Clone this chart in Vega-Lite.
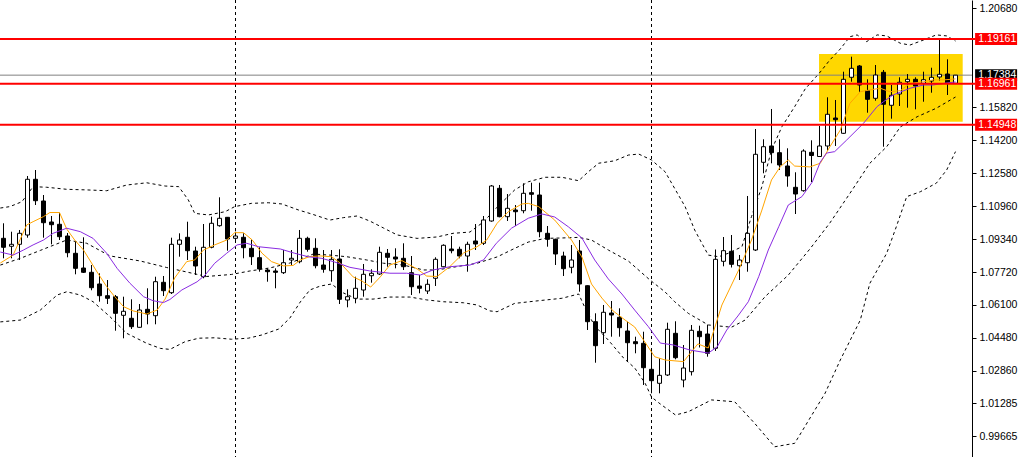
{
  "$schema": "https://vega.github.io/schema/vega-lite/v6.json",
  "width": 972,
  "height": 457,
  "autosize": {"type": "none"},
  "padding": {"left": 0, "top": 0, "right": 48, "bottom": 0},
  "background": "white",
  "config": {
    "view": {"stroke": null},
    "axis": {"grid": false, "title": null, "domainColor": "black", "domainWidth": 1, "tickColor": "black", "tickSize": 4,
             "labelColor": "black", "labelFont": "Liberation Sans", "labelFontSize": 10.5, "labelPadding": 3,
             "labelOverlap": false, "labelFlush": false}
  },
  "datasets": {
    "candles": [
      {"i":0,"o":1.09374,"h":1.10111,"l":1.08392,"c":1.08933},
      {"i":1,"o":1.08982,"h":1.09698,"l":1.08392,"c":1.09080},
      {"i":2,"o":1.09080,"h":1.09782,"l":1.08309,"c":1.09620},
      {"i":3,"o":1.09536,"h":1.12433,"l":1.09404,"c":1.12271},
      {"i":4,"o":1.12271,"h":1.12727,"l":1.11009,"c":1.11220},
      {"i":5,"o":1.11206,"h":1.11500,"l":1.09404,"c":1.10140},
      {"i":6,"o":1.10175,"h":1.10469,"l":1.09080,"c":1.10042},
      {"i":7,"o":1.10062,"h":1.10631,"l":1.09291,"c":1.09453},
      {"i":8,"o":1.09487,"h":1.09635,"l":1.08442,"c":1.08667},
      {"i":9,"o":1.08638,"h":1.09207,"l":1.07607,"c":1.07901},
      {"i":10,"o":1.07916,"h":1.09424,"l":1.07671,"c":1.07705},
      {"i":11,"o":1.07705,"h":1.08064,"l":1.06822,"c":1.06949},
      {"i":12,"o":1.07131,"h":1.07656,"l":1.06262,"c":1.06557},
      {"i":13,"o":1.06557,"h":1.07327,"l":1.06149,"c":1.06429},
      {"i":14,"o":1.06508,"h":1.06591,"l":1.04838,"c":1.05692},
      {"i":15,"o":1.05594,"h":1.06508,"l":1.04465,"c":1.05791},
      {"i":16,"o":1.05447,"h":1.06380,"l":1.04922,"c":1.05035},
      {"i":17,"o":1.05005,"h":1.06149,"l":1.04990,"c":1.05854},
      {"i":18,"o":1.05889,"h":1.06920,"l":1.05152,"c":1.05658},
      {"i":19,"o":1.05575,"h":1.07489,"l":1.05152,"c":1.07244},
      {"i":20,"o":1.07214,"h":1.07524,"l":1.06542,"c":1.06802},
      {"i":21,"o":1.06704,"h":1.09404,"l":1.06640,"c":1.09080},
      {"i":22,"o":1.09080,"h":1.09620,"l":1.08471,"c":1.09291},
      {"i":23,"o":1.09424,"h":1.10189,"l":1.08309,"c":1.08766},
      {"i":24,"o":1.08751,"h":1.08962,"l":1.07573,"c":1.08015},
      {"i":25,"o":1.07489,"h":1.10076,"l":1.07411,"c":1.08933},
      {"i":26,"o":1.08933,"h":1.10435,"l":1.08883,"c":1.10111},
      {"i":27,"o":1.09993,"h":1.11387,"l":1.09944,"c":1.10356},
      {"i":28,"o":1.10405,"h":1.10420,"l":1.08766,"c":1.09340},
      {"i":29,"o":1.09374,"h":1.09698,"l":1.09291,"c":1.09487},
      {"i":30,"o":1.09424,"h":1.09620,"l":1.08392,"c":1.08913},
      {"i":31,"o":1.08883,"h":1.09325,"l":1.08064,"c":1.08471},
      {"i":32,"o":1.08422,"h":1.08933,"l":1.07735,"c":1.07867},
      {"i":33,"o":1.07818,"h":1.07901,"l":1.07244,"c":1.07735},
      {"i":34,"o":1.07769,"h":1.07901,"l":1.06920,"c":1.07705},
      {"i":35,"o":1.07686,"h":1.08800,"l":1.07622,"c":1.08176},
      {"i":36,"o":1.08309,"h":1.08800,"l":1.08064,"c":1.08392},
      {"i":37,"o":1.08226,"h":1.09782,"l":1.08147,"c":1.09374},
      {"i":38,"o":1.09374,"h":1.09453,"l":1.08717,"c":1.08834},
      {"i":39,"o":1.08883,"h":1.09374,"l":1.07901,"c":1.08029},
      {"i":40,"o":1.08064,"h":1.08800,"l":1.07686,"c":1.07853},
      {"i":41,"o":1.07784,"h":1.08800,"l":1.07244,"c":1.08343},
      {"i":42,"o":1.08358,"h":1.08834,"l":1.06149,"c":1.06380},
      {"i":43,"o":1.06345,"h":1.06871,"l":1.05987,"c":1.06508},
      {"i":44,"o":1.06429,"h":1.07489,"l":1.06183,"c":1.06920},
      {"i":45,"o":1.06836,"h":1.08113,"l":1.06508,"c":1.07607},
      {"i":46,"o":1.07538,"h":1.07853,"l":1.07195,"c":1.07656},
      {"i":47,"o":1.07622,"h":1.08962,"l":1.07573,"c":1.08687},
      {"i":48,"o":1.08638,"h":1.08849,"l":1.07980,"c":1.08442},
      {"i":49,"o":1.08456,"h":1.08883,"l":1.07901,"c":1.08358},
      {"i":50,"o":1.08392,"h":1.09129,"l":1.07818,"c":1.07980},
      {"i":51,"o":1.07686,"h":1.08505,"l":1.06591,"c":1.06998},
      {"i":52,"o":1.07033,"h":1.07573,"l":1.06674,"c":1.06920},
      {"i":53,"o":1.06787,"h":1.07362,"l":1.06640,"c":1.07116},
      {"i":54,"o":1.07411,"h":1.08442,"l":1.07033,"c":1.08343},
      {"i":55,"o":1.07980,"h":1.09080,"l":1.07951,"c":1.09031},
      {"i":56,"o":1.08849,"h":1.09487,"l":1.08638,"c":1.08766},
      {"i":57,"o":1.08834,"h":1.08962,"l":1.08392,"c":1.08505},
      {"i":58,"o":1.08505,"h":1.09207,"l":1.07735,"c":1.09080},
      {"i":59,"o":1.09242,"h":1.10076,"l":1.08800,"c":1.09095},
      {"i":60,"o":1.09129,"h":1.10469,"l":1.09045,"c":1.10273},
      {"i":61,"o":1.10224,"h":1.11991,"l":1.10189,"c":1.11942},
      {"i":62,"o":1.11829,"h":1.11991,"l":1.10405,"c":1.10435},
      {"i":63,"o":1.10435,"h":1.11549,"l":1.10224,"c":1.10847},
      {"i":64,"o":1.10764,"h":1.11009,"l":1.09978,"c":1.10680},
      {"i":65,"o":1.10729,"h":1.12074,"l":1.10602,"c":1.11583},
      {"i":66,"o":1.11613,"h":1.12104,"l":1.10729,"c":1.11535},
      {"i":67,"o":1.11500,"h":1.12104,"l":1.09424,"c":1.09698},
      {"i":68,"o":1.09620,"h":1.09978,"l":1.08962,"c":1.09325},
      {"i":69,"o":1.09325,"h":1.09355,"l":1.08064,"c":1.08604},
      {"i":70,"o":1.08505,"h":1.08717,"l":1.07524,"c":1.07882},
      {"i":71,"o":1.07951,"h":1.09045,"l":1.07656,"c":1.08309},
      {"i":72,"o":1.08751,"h":1.09291,"l":1.06753,"c":1.07131},
      {"i":73,"o":1.07047,"h":1.07060,"l":1.04873,"c":1.05280},
      {"i":74,"o":1.05280,"h":1.05692,"l":1.03267,"c":1.04102},
      {"i":75,"o":1.04740,"h":1.06100,"l":1.04185,"c":1.05742},
      {"i":76,"o":1.05707,"h":1.06296,"l":1.04544,"c":1.05609},
      {"i":77,"o":1.05496,"h":1.05938,"l":1.04544,"c":1.04986},
      {"i":78,"o":1.04824,"h":1.05280,"l":1.03317,"c":1.04249},
      {"i":79,"o":1.04298,"h":1.04544,"l":1.03729,"c":1.04200},
      {"i":80,"o":1.04220,"h":1.04789,"l":1.02173,"c":1.03022},
      {"i":81,"o":1.02943,"h":1.03925,"l":1.01765,"c":1.02384},
      {"i":82,"o":1.02256,"h":1.03483,"l":1.01765,"c":1.02648},
      {"i":83,"o":1.02664,"h":1.05231,"l":1.02615,"c":1.04907},
      {"i":84,"o":1.04710,"h":1.05300,"l":1.03434,"c":1.03513},
      {"i":85,"o":1.02418,"h":1.04136,"l":1.02060,"c":1.03007},
      {"i":86,"o":1.02826,"h":1.05118,"l":1.02639,"c":1.04858},
      {"i":87,"o":1.04809,"h":1.05084,"l":1.04014,"c":1.04544},
      {"i":88,"o":1.04676,"h":1.05133,"l":1.03562,"c":1.03729},
      {"i":89,"o":1.03974,"h":1.08825,"l":1.03842,"c":1.08343},
      {"i":90,"o":1.08245,"h":1.09438,"l":1.07999,"c":1.08766},
      {"i":91,"o":1.08736,"h":1.09536,"l":1.07941,"c":1.08098},
      {"i":92,"o":1.08029,"h":1.08555,"l":1.07327,"c":1.08309},
      {"i":93,"o":1.08176,"h":1.11451,"l":1.07735,"c":1.09620},
      {"i":94,"o":1.08800,"h":1.14740,"l":1.08751,"c":1.13498},
      {"i":95,"o":1.13105,"h":1.14235,"l":1.12565,"c":1.13871},
      {"i":96,"o":1.13906,"h":1.15722,"l":1.13056,"c":1.13577},
      {"i":97,"o":1.13577,"h":1.14235,"l":1.12727,"c":1.12973},
      {"i":98,"o":1.12924,"h":1.13793,"l":1.11907,"c":1.12433},
      {"i":99,"o":1.11878,"h":1.12615,"l":1.10567,"c":1.11549},
      {"i":100,"o":1.11711,"h":1.13744,"l":1.11662,"c":1.13660},
      {"i":101,"o":1.13596,"h":1.14185,"l":1.12138,"c":1.13439},
      {"i":102,"o":1.13390,"h":1.14887,"l":1.13380,"c":1.13906},
      {"i":103,"o":1.13906,"h":1.16296,"l":1.13675,"c":1.15462},
      {"i":104,"o":1.15280,"h":1.16164,"l":1.13906,"c":1.15197},
      {"i":105,"o":1.14529,"h":1.17553,"l":1.14500,"c":1.17180},
      {"i":106,"o":1.17278,"h":1.18290,"l":1.17062,"c":1.17720},
      {"i":107,"o":1.17833,"h":1.17882,"l":1.16571,"c":1.16900},
      {"i":108,"o":1.16620,"h":1.17180,"l":1.15540,"c":1.16198},
      {"i":109,"o":1.16247,"h":1.17882,"l":1.16129,"c":1.17391},
      {"i":110,"o":1.17524,"h":1.17637,"l":1.13871,"c":1.15953},
      {"i":111,"o":1.15904,"h":1.16900,"l":1.15246,"c":1.16395},
      {"i":112,"o":1.16458,"h":1.17278,"l":1.15869,"c":1.17033},
      {"i":113,"o":1.17062,"h":1.17440,"l":1.15786,"c":1.17180},
      {"i":114,"o":1.17180,"h":1.17278,"l":1.15707,"c":1.16851},
      {"i":115,"o":1.16984,"h":1.17553,"l":1.16080,"c":1.17160},
      {"i":116,"o":1.17097,"h":1.17749,"l":1.16522,"c":1.17278},
      {"i":117,"o":1.17293,"h":1.19109,"l":1.17111,"c":1.17425},
      {"i":118,"o":1.17440,"h":1.18162,"l":1.16409,"c":1.16984},
      {"i":119,"o":1.16984,"h":1.17390,"l":1.16980,"c":1.17384}
    ],
    "lines": [
      {"s":"f","i":-0.4,"v":1.0816},{"s":"f","i":1.2,"v":1.0855},{"s":"f","i":2.9,"v":1.1003},{"s":"f","i":3.7,"v":1.1019},{"s":"f","i":5.0,"v":1.1044},{"s":"f","i":5.8,"v":1.1064},{"s":"f","i":7.0,"v":1.1064},{"s":"f","i":7.9,"v":1.0983},{"s":"f","i":8.9,"v":1.0929},{"s":"f","i":10.0,"v":1.0880},{"s":"f","i":11.7,"v":1.0772},{"s":"f","i":12.9,"v":1.0700},{"s":"f","i":13.9,"v":1.0651},{"s":"f","i":15.0,"v":1.0602},{"s":"f","i":16.2,"v":1.0581},{"s":"f","i":17.9,"v":1.0566},{"s":"f","i":19.2,"v":1.0585},{"s":"f","i":20.2,"v":1.0639},{"s":"f","i":21.4,"v":1.0743},{"s":"f","i":22.9,"v":1.0823},{"s":"f","i":23.9,"v":1.0831},{"s":"f","i":25.0,"v":1.0880},{"s":"f","i":26.4,"v":1.0905},{"s":"f","i":27.9,"v":1.0929},{"s":"f","i":28.9,"v":1.0965},{"s":"f","i":30.0,"v":1.0965},{"s":"f","i":31.1,"v":1.0929},{"s":"f","i":32.3,"v":1.0865},{"s":"f","i":33.5,"v":1.0823},{"s":"f","i":35.0,"v":1.0802},{"s":"f","i":36.2,"v":1.0804},{"s":"f","i":37.1,"v":1.0831},{"s":"f","i":38.3,"v":1.0848},{"s":"f","i":39.6,"v":1.0851},{"s":"f","i":41.0,"v":1.0847},{"s":"f","i":42.1,"v":1.0816},{"s":"f","i":43.7,"v":1.0748},{"s":"f","i":44.8,"v":1.0728},{"s":"f","i":45.9,"v":1.0698},{"s":"f","i":47.1,"v":1.0748},{"s":"f","i":48.3,"v":1.0806},{"s":"f","i":49.8,"v":1.0828},{"s":"f","i":50.8,"v":1.0806},{"s":"f","i":51.7,"v":1.0787},{"s":"f","i":52.9,"v":1.0752},{"s":"f","i":54.2,"v":1.0750},{"s":"f","i":55.8,"v":1.0799},{"s":"f","i":57.5,"v":1.0865},{"s":"f","i":59.2,"v":1.0896},{"s":"f","i":60.4,"v":1.0929},{"s":"f","i":61.7,"v":1.1011},{"s":"f","i":63.1,"v":1.1068},{"s":"f","i":64.8,"v":1.1106},{"s":"f","i":65.6,"v":1.1109},{"s":"f","i":66.9,"v":1.1093},{"s":"f","i":68.9,"v":1.1027},{"s":"f","i":71.0,"v":1.0929},{"s":"f","i":72.3,"v":1.0846},{"s":"f","i":73.5,"v":1.0713},{"s":"f","i":74.8,"v":1.0644},{"s":"f","i":76.2,"v":1.0581},{"s":"f","i":77.7,"v":1.0536},{"s":"f","i":78.9,"v":1.0502},{"s":"f","i":80.0,"v":1.0438},{"s":"f","i":81.4,"v":1.0356},{"s":"f","i":82.7,"v":1.0340},{"s":"f","i":85.0,"v":1.0332},{"s":"f","i":86.8,"v":1.0419},{"s":"f","i":88.1,"v":1.0399},{"s":"f","i":89.8,"v":1.0610},{"s":"f","i":91.9,"v":1.0782},{"s":"f","i":93.5,"v":1.0929},{"s":"f","i":94.8,"v":1.1076},{"s":"f","i":96.0,"v":1.1224},{"s":"f","i":97.1,"v":1.1289},{"s":"f","i":98.1,"v":1.1322},{"s":"f","i":98.9,"v":1.1292},{"s":"f","i":100.8,"v":1.1288},{"s":"f","i":102.1,"v":1.1306},{"s":"f","i":103.3,"v":1.1387},{"s":"f","i":104.6,"v":1.1469},{"s":"f","i":105.8,"v":1.1600},{"s":"f","i":107.1,"v":1.1657},{"s":"f","i":108.3,"v":1.1666},{"s":"f","i":109.6,"v":1.1674},{"s":"f","i":110.8,"v":1.1657},{"s":"f","i":112.1,"v":1.1662},{"s":"f","i":113.3,"v":1.1698},{"s":"f","i":115.0,"v":1.1706},{"s":"f","i":116.2,"v":1.1715},{"s":"f","i":117.5,"v":1.1715},{"s":"f","i":119.0,"v":1.1720},
      {"s":"s","i":-0.4,"v":1.0870},{"s":"s","i":1.2,"v":1.0855},{"s":"s","i":2.5,"v":1.0880},{"s":"s","i":3.7,"v":1.0905},{"s":"s","i":5.0,"v":1.0929},{"s":"s","i":6.2,"v":1.0962},{"s":"s","i":7.9,"v":1.0987},{"s":"s","i":9.6,"v":1.0970},{"s":"s","i":11.2,"v":1.0937},{"s":"s","i":12.9,"v":1.0864},{"s":"s","i":14.2,"v":1.0790},{"s":"s","i":15.8,"v":1.0717},{"s":"s","i":17.5,"v":1.0651},{"s":"s","i":18.7,"v":1.0631},{"s":"s","i":20.0,"v":1.0622},{"s":"s","i":20.8,"v":1.0637},{"s":"s","i":22.3,"v":1.0684},{"s":"s","i":24.2,"v":1.0724},{"s":"s","i":25.2,"v":1.0757},{"s":"s","i":26.4,"v":1.0815},{"s":"s","i":27.9,"v":1.0864},{"s":"s","i":29.2,"v":1.0905},{"s":"s","i":30.4,"v":1.0913},{"s":"s","i":31.9,"v":1.0896},{"s":"s","i":34.6,"v":1.0885},{"s":"s","i":36.4,"v":1.0864},{"s":"s","i":38.1,"v":1.0847},{"s":"s","i":39.8,"v":1.0839},{"s":"s","i":41.4,"v":1.0821},{"s":"s","i":43.3,"v":1.0795},{"s":"s","i":45.8,"v":1.0777},{"s":"s","i":48.3,"v":1.0766},{"s":"s","i":50.4,"v":1.0766},{"s":"s","i":52.1,"v":1.0757},{"s":"s","i":53.7,"v":1.0782},{"s":"s","i":55.8,"v":1.0798},{"s":"s","i":58.3,"v":1.0806},{"s":"s","i":60.0,"v":1.0831},{"s":"s","i":61.6,"v":1.0913},{"s":"s","i":63.5,"v":1.0987},{"s":"s","i":65.6,"v":1.1036},{"s":"s","i":67.3,"v":1.1057},{"s":"s","i":68.9,"v":1.1042},{"s":"s","i":70.6,"v":1.0994},{"s":"s","i":72.3,"v":1.0939},{"s":"s","i":73.9,"v":1.0831},{"s":"s","i":75.6,"v":1.0738},{"s":"s","i":77.3,"v":1.0664},{"s":"s","i":78.9,"v":1.0585},{"s":"s","i":80.6,"v":1.0504},{"s":"s","i":82.1,"v":1.0423},{"s":"s","i":83.7,"v":1.0414},{"s":"s","i":85.8,"v":1.0389},{"s":"s","i":88.1,"v":1.0374},{"s":"s","i":89.2,"v":1.0404},{"s":"s","i":90.4,"v":1.0487},{"s":"s","i":91.8,"v":1.0556},{"s":"s","i":93.1,"v":1.0626},{"s":"s","i":94.4,"v":1.0749},{"s":"s","i":95.6,"v":1.0880},{"s":"s","i":96.9,"v":1.0994},{"s":"s","i":98.1,"v":1.1101},{"s":"s","i":99.8,"v":1.1142},{"s":"s","i":101.1,"v":1.1214},{"s":"s","i":102.1,"v":1.1312},{"s":"s","i":102.9,"v":1.1356},{"s":"s","i":103.9,"v":1.1363},{"s":"s","i":105.4,"v":1.1420},{"s":"s","i":107.5,"v":1.1502},{"s":"s","i":109.2,"v":1.1584},{"s":"s","i":110.0,"v":1.1608},{"s":"s","i":111.2,"v":1.1641},{"s":"s","i":113.3,"v":1.1674},{"s":"s","i":115.0,"v":1.1690},{"s":"s","i":116.2,"v":1.1690},{"s":"s","i":117.5,"v":1.1698},{"s":"s","i":119.0,"v":1.1705},
      {"s":"u","i":-0.4,"v":1.1086},{"s":"u","i":0.8,"v":1.1093},{"s":"u","i":2.3,"v":1.1117},{"s":"u","i":3.7,"v":1.1191},{"s":"u","i":5.4,"v":1.1188},{"s":"u","i":7.9,"v":1.1178},{"s":"u","i":10.4,"v":1.1175},{"s":"u","i":12.9,"v":1.1171},{"s":"u","i":15.4,"v":1.1199},{"s":"u","i":17.9,"v":1.1210},{"s":"u","i":20.2,"v":1.1194},{"s":"u","i":21.9,"v":1.1191},{"s":"u","i":23.1,"v":1.1126},{"s":"u","i":23.9,"v":1.1060},{"s":"u","i":25.6,"v":1.1052},{"s":"u","i":27.7,"v":1.1068},{"s":"u","i":28.9,"v":1.1093},{"s":"u","i":31.0,"v":1.1109},{"s":"u","i":33.1,"v":1.1112},{"s":"u","i":34.8,"v":1.1106},{"s":"u","i":36.9,"v":1.1076},{"s":"u","i":38.5,"v":1.1057},{"s":"u","i":40.8,"v":1.1027},{"s":"u","i":42.5,"v":1.1039},{"s":"u","i":44.2,"v":1.1047},{"s":"u","i":45.8,"v":1.1022},{"s":"u","i":47.5,"v":1.0988},{"s":"u","i":49.2,"v":1.0954},{"s":"u","i":51.7,"v":1.0937},{"s":"u","i":54.2,"v":1.0944},{"s":"u","i":56.2,"v":1.0962},{"s":"u","i":58.3,"v":1.0968},{"s":"u","i":60.0,"v":1.1018},{"s":"u","i":61.7,"v":1.1090},{"s":"u","i":63.9,"v":1.1175},{"s":"u","i":65.6,"v":1.1215},{"s":"u","i":67.7,"v":1.1237},{"s":"u","i":69.8,"v":1.1237},{"s":"u","i":71.9,"v":1.1220},{"s":"u","i":73.1,"v":1.1264},{"s":"u","i":74.4,"v":1.1306},{"s":"u","i":76.4,"v":1.1318},{"s":"u","i":78.1,"v":1.1346},{"s":"u","i":79.4,"v":1.1351},{"s":"u","i":81.0,"v":1.1322},{"s":"u","i":82.7,"v":1.1264},{"s":"u","i":85.2,"v":1.1093},{"s":"u","i":86.4,"v":1.0978},{"s":"u","i":88.1,"v":1.0855},{"s":"u","i":89.4,"v":1.0847},{"s":"u","i":90.6,"v":1.0864},{"s":"u","i":92.3,"v":1.0896},{"s":"u","i":93.5,"v":1.1044},{"s":"u","i":94.8,"v":1.1191},{"s":"u","i":96.0,"v":1.1371},{"s":"u","i":97.3,"v":1.1485},{"s":"u","i":98.9,"v":1.1584},{"s":"u","i":100.2,"v":1.1670},{"s":"u","i":102.1,"v":1.1754},{"s":"u","i":103.3,"v":1.1813},{"s":"u","i":104.6,"v":1.1867},{"s":"u","i":105.8,"v":1.1927},{"s":"u","i":106.7,"v":1.1936},{"s":"u","i":107.9,"v":1.1903},{"s":"u","i":109.2,"v":1.1936},{"s":"u","i":110.4,"v":1.1931},{"s":"u","i":112.1,"v":1.1895},{"s":"u","i":113.3,"v":1.1886},{"s":"u","i":115.0,"v":1.1911},{"s":"u","i":116.6,"v":1.1936},{"s":"u","i":117.9,"v":1.1931},{"s":"u","i":119.0,"v":1.1906},
      {"s":"m","i":-0.4,"v":1.0806},{"s":"m","i":2.1,"v":1.0839},{"s":"m","i":4.6,"v":1.0878},{"s":"m","i":7.9,"v":1.0929},{"s":"m","i":10.4,"v":1.0913},{"s":"m","i":13.3,"v":1.0851},{"s":"m","i":17.1,"v":1.0826},{"s":"m","i":20.4,"v":1.0794},{"s":"m","i":22.9,"v":1.0772},{"s":"m","i":25.4,"v":1.0750},{"s":"m","i":28.5,"v":1.0760},{"s":"m","i":30.8,"v":1.0777},{"s":"m","i":33.3,"v":1.0792},{"s":"m","i":35.8,"v":1.0816},{"s":"m","i":38.7,"v":1.0860},{"s":"m","i":40.8,"v":1.0855},{"s":"m","i":42.9,"v":1.0847},{"s":"m","i":45.4,"v":1.0831},{"s":"m","i":47.5,"v":1.0815},{"s":"m","i":50.0,"v":1.0806},{"s":"m","i":52.5,"v":1.0782},{"s":"m","i":54.2,"v":1.0782},{"s":"m","i":56.6,"v":1.0798},{"s":"m","i":59.2,"v":1.0815},{"s":"m","i":61.7,"v":1.0846},{"s":"m","i":63.9,"v":1.0888},{"s":"m","i":65.6,"v":1.0919},{"s":"m","i":67.7,"v":1.0937},{"s":"m","i":69.8,"v":1.0939},{"s":"m","i":71.9,"v":1.0942},{"s":"m","i":73.5,"v":1.0929},{"s":"m","i":75.6,"v":1.0880},{"s":"m","i":78.1,"v":1.0826},{"s":"m","i":80.8,"v":1.0733},{"s":"m","i":82.7,"v":1.0674},{"s":"m","i":83.9,"v":1.0626},{"s":"m","i":85.6,"v":1.0569},{"s":"m","i":88.1,"v":1.0512},{"s":"m","i":91.0,"v":1.0501},{"s":"m","i":92.7,"v":1.0536},{"s":"m","i":95.2,"v":1.0651},{"s":"m","i":98.1,"v":1.0757},{"s":"m","i":100.8,"v":1.0885},{"s":"m","i":103.3,"v":1.1013},{"s":"m","i":105.8,"v":1.1158},{"s":"m","i":108.3,"v":1.1306},{"s":"m","i":110.4,"v":1.1387},{"s":"m","i":112.1,"v":1.1484},{"s":"m","i":114.2,"v":1.1534},{"s":"m","i":116.6,"v":1.1576},{"s":"m","i":119.0,"v":1.1631},
      {"s":"d","i":-0.4,"v":1.0527},{"s":"d","i":2.1,"v":1.0536},{"s":"d","i":4.6,"v":1.0585},{"s":"d","i":6.7,"v":1.0659},{"s":"d","i":7.9,"v":1.0675},{"s":"d","i":9.6,"v":1.0659},{"s":"d","i":11.2,"v":1.0626},{"s":"d","i":13.3,"v":1.0553},{"s":"d","i":15.4,"v":1.0471},{"s":"d","i":17.9,"v":1.0422},{"s":"d","i":19.6,"v":1.0397},{"s":"d","i":20.8,"v":1.0392},{"s":"d","i":22.7,"v":1.0430},{"s":"d","i":24.4,"v":1.0447},{"s":"d","i":26.4,"v":1.0449},{"s":"d","i":28.5,"v":1.0442},{"s":"d","i":30.6,"v":1.0447},{"s":"d","i":32.3,"v":1.0463},{"s":"d","i":34.4,"v":1.0492},{"s":"d","i":35.8,"v":1.0546},{"s":"d","i":37.1,"v":1.0625},{"s":"d","i":38.3,"v":1.0684},{"s":"d","i":39.6,"v":1.0703},{"s":"d","i":41.0,"v":1.0713},{"s":"d","i":42.5,"v":1.0669},{"s":"d","i":44.2,"v":1.0639},{"s":"d","i":46.2,"v":1.0639},{"s":"d","i":48.3,"v":1.0649},{"s":"d","i":50.8,"v":1.0649},{"s":"d","i":52.9,"v":1.0635},{"s":"d","i":55.0,"v":1.0626},{"s":"d","i":57.5,"v":1.0621},{"s":"d","i":59.2,"v":1.0610},{"s":"d","i":60.8,"v":1.0581},{"s":"d","i":61.7,"v":1.0577},{"s":"d","i":63.9,"v":1.0618},{"s":"d","i":66.9,"v":1.0631},{"s":"d","i":69.8,"v":1.0643},{"s":"d","i":71.9,"v":1.0664},{"s":"d","i":72.7,"v":1.0595},{"s":"d","i":73.9,"v":1.0507},{"s":"d","i":75.6,"v":1.0438},{"s":"d","i":77.5,"v":1.0350},{"s":"d","i":78.9,"v":1.0301},{"s":"d","i":80.2,"v":1.0226},{"s":"d","i":81.0,"v":1.0158},{"s":"d","i":82.1,"v":1.0124},{"s":"d","i":84.0,"v":1.0070},{"s":"d","i":85.6,"v":1.0086},{"s":"d","i":88.5,"v":1.0144},{"s":"d","i":91.4,"v":1.0135},{"s":"d","i":93.9,"v":1.0029},{"s":"d","i":96.4,"v":0.9914},{"s":"d","i":98.9,"v":0.9931},{"s":"d","i":102.7,"v":1.0177},{"s":"d","i":104.6,"v":1.0340},{"s":"d","i":107.1,"v":1.0536},{"s":"d","i":108.3,"v":1.0717},{"s":"d","i":110.4,"v":1.0864},{"s":"d","i":111.6,"v":1.0994},{"s":"d","i":112.9,"v":1.1142},{"s":"d","i":114.6,"v":1.1166},{"s":"d","i":116.6,"v":1.1208},{"s":"d","i":117.9,"v":1.1273},{"s":"d","i":119.0,"v":1.1363}
    ],
    "levels": [{"level": 1.19161}, {"level": 1.16961}, {"level": 1.14948}],
    "seps": [{"i": 29}, {"i": 81}],
    "last": [{"price": 1.17384}],
    "box": [{"x0": 101.94, "x1": 119.9, "top": 1.18422, "bottom": 1.15098}]
  },
  "layer": [
    {
      "data": {"name": "box"},
      "mark": {"type": "rect", "color": "#FFD700"},
      "encoding": {
        "x": {"field": "x0", "type": "quantitative", "axis": null,
              "scale": {"domain": [-0.4375, 121.0625], "nice": false, "zero": false, "padding": 0}},
        "x2": {"field": "x1"},
        "y": {"field": "top", "type": "quantitative", "title": null,
              "scale": {"domain": [0.98638, 1.21073], "nice": false, "zero": false, "padding": 0},
              "axis": {"orient": "right", "format": ".5f",
                       "values": [1.2068, 1.1582, 1.142, 1.1258, 1.1096, 1.0934, 1.0772, 1.061, 1.0448, 1.0286, 1.01285, 0.99665]}},
        "y2": {"field": "bottom"}
      }
    },
    {
      "data": {"name": "seps"},
      "mark": {"type": "rule", "color": "black", "strokeWidth": 1, "strokeDash": [3, 3]},
      "encoding": {
        "x": {"field": "i", "type": "quantitative", "axis": null}
      }
    },
    {
      "data": {"name": "lines"},
      "transform": [{"filter": "indexof(['u','m','d'], datum.s) >= 0"}],
      "mark": {"type": "line", "color": "black", "strokeWidth": 1, "strokeDash": [3, 3]},
      "encoding": {
        "x": {"field": "i", "type": "quantitative", "axis": null},
        "y": {"field": "v", "type": "quantitative", "title": null},
        "detail": {"field": "s"}
      }
    },
    {
      "data": {"name": "last"},
      "mark": {"type": "rule", "color": "#808080", "strokeWidth": 1},
      "encoding": {
        "y": {"field": "price", "type": "quantitative", "title": null}
      }
    },
    {
      "data": {"name": "candles"},
      "mark": {"type": "rule", "color": "black", "strokeWidth": 1},
      "encoding": {
        "x": {"field": "i", "type": "quantitative", "axis": null},
        "y": {"field": "l", "type": "quantitative", "title": null},
        "y2": {"field": "h"}
      }
    },
    {
      "data": {"name": "candles"},
      "mark": {"type": "bar", "orient": "vertical", "size": 4, "stroke": "black", "strokeWidth": 1},
      "encoding": {
        "x": {"field": "i", "type": "quantitative", "axis": null},
        "y": {"field": "o", "type": "quantitative", "title": null},
        "y2": {"field": "c"},
        "fill": {"condition": {"test": "datum.c >= datum.o", "value": "white"}, "value": "black"}
      }
    },
    {
      "data": {"name": "lines"},
      "transform": [{"filter": "datum.s == 'f' || datum.s == 's'"}],
      "mark": {"type": "line", "strokeWidth": 1},
      "encoding": {
        "x": {"field": "i", "type": "quantitative", "axis": null},
        "y": {"field": "v", "type": "quantitative", "title": null},
        "color": {"field": "s", "type": "nominal", "legend": null,
                  "scale": {"domain": ["s", "f"], "range": ["#8A2BE2", "#FFA500"]}}
      }
    },
    {
      "data": {"name": "levels"},
      "mark": {"type": "rule", "color": "#FF0000", "strokeWidth": 2},
      "encoding": {
        "y": {"field": "level", "type": "quantitative", "title": null},
        "x": {"datum": -0.4375, "type": "quantitative"},
        "x2": {"datum": 121.5}
      }
    },
    {
      "data": {"name": "last"},
      "mark": {"type": "rule", "color": "black", "strokeWidth": 12},
      "encoding": {
        "y": {"field": "price", "type": "quantitative", "title": null},
        "x": {"datum": 121.45, "type": "quantitative"},
        "x2": {"datum": 126.7}
      }
    },
    {
      "data": {"name": "last"},
      "mark": {"type": "text", "color": "white", "font": "Liberation Sans", "fontSize": 10.5, "align": "left", "baseline": "middle"},
      "encoding": {
        "y": {"field": "price", "type": "quantitative", "title": null},
        "x": {"datum": 121.85, "type": "quantitative"},
        "text": {"field": "price", "type": "quantitative", "format": ".5f"}
      }
    },
    {
      "data": {"name": "levels"},
      "mark": {"type": "rule", "color": "#FF0000", "strokeWidth": 12},
      "encoding": {
        "y": {"field": "level", "type": "quantitative", "title": null},
        "x": {"datum": 121.45, "type": "quantitative"},
        "x2": {"datum": 126.7}
      }
    },
    {
      "data": {"name": "levels"},
      "mark": {"type": "text", "color": "white", "font": "Liberation Sans", "fontSize": 10.5, "align": "left", "baseline": "middle"},
      "encoding": {
        "y": {"field": "level", "type": "quantitative", "title": null},
        "x": {"datum": 121.85, "type": "quantitative"},
        "text": {"field": "level", "type": "quantitative", "format": ".5f"}
      }
    }
  ]
}
